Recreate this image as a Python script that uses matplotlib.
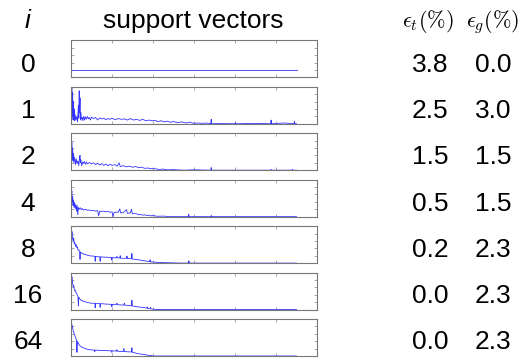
import numpy as np
import matplotlib
matplotlib.use("Agg")
import matplotlib.pyplot as plt

plt.rcParams['font.family'] = ['Liberation Sans', 'DejaVu Sans']
plt.rcParams['mathtext.fontset'] = 'cm'

# ---------------- data ----------------
row_labels = ["0", "1", "2", "4", "8", "16", "64"]
eps_t = [3.8, 2.5, 1.5, 0.5, 0.2, 0.0, 0.0]
eps_g = [0.0, 3.0, 1.5, 1.5, 2.3, 2.3, 2.3]

sv0_idx = [0, 1100]
sv0_val = [0.2, 0.2]

sv1_idx = [0, 2, 4, 6, 8, 10, 12, 14, 16, 18, 20, 24, 28, 32, 36, 38, 40, 42, 44, 46, 48, 50,
           54, 58, 62, 66, 70, 75, 80, 85, 90, 95, 100, 110, 120, 130, 140, 150, 160, 170, 180,
           190, 200, 215, 230, 245, 260, 275, 290, 305, 320, 335, 350, 365, 380, 395, 410, 425,
           440, 455, 470, 485, 500, 520, 540, 560, 580, 600, 620, 640, 660, 682, 684, 686, 720,
           800, 802, 804, 900, 974, 976, 978, 1040, 1088, 1090, 1092, 1100]
sv1_val = [0.95, 0.3, 1.0, 0.2, 0.85, 0.1, 0.6, 0.15, 0.4, 0.08, 0.25, 0.1, 0.2, 0.05, 0.5, 0.15,
           0.89, 0.3, 0.7, 0.1, 0.3, 0.12, 0.18, 0.08, 0.2, 0.1, 0.19, 0.12, 0.2, 0.13, 0.17, 0.1,
           0.18, 0.14, 0.17, 0.1, 0.16, 0.13, 0.15, 0.11, 0.14, 0.12, 0.15, 0.11, 0.14, 0.12, 0.13,
           0.1, 0.14, 0.1, 0.12, 0.09, 0.12, 0.08, 0.1, 0.08, 0.09, 0.06, 0.08, 0.05, 0.07, 0.04,
           0.06, 0.03, 0.05, 0.02, 0.04, 0.01, 0.02, 0.01, 0.02, 0.0, 0.12, 0.0, 0.005,
           0.0, 0.03, 0.0, 0.01, 0.0, 0.1, 0.0, 0.02, 0.0, 0.07, 0.0, 0.0]

sv2_idx = [0, 2, 4, 6, 8, 10, 12, 14, 18, 22, 26, 30, 34, 38, 42, 44, 46, 48, 52, 56, 60, 65,
           70, 75, 80, 90, 100, 110, 120, 130, 140, 150, 160, 170, 180, 190, 200, 215, 225, 235,
           240, 255, 270, 285, 300, 315, 330, 345, 360, 375, 390, 410, 430, 450, 470, 500, 550,
           600, 682, 684, 686, 800, 974, 976, 978, 1078, 1080, 1082, 1100]
sv2_val = [0.82, 0.5, 0.75, 0.3, 0.6, 0.25, 0.45, 0.2, 0.35, 0.15, 0.3, 0.18, 0.25, 0.12, 0.35,
           0.4, 0.2, 0.28, 0.12, 0.22, 0.18, 0.24, 0.16, 0.22, 0.17, 0.21, 0.17, 0.2, 0.15, 0.19,
           0.14, 0.18, 0.13, 0.17, 0.12, 0.16, 0.13, 0.15, 0.11, 0.2, 0.1, 0.12, 0.09, 0.11, 0.08,
           0.1, 0.07, 0.08, 0.05, 0.06, 0.04, 0.04, 0.02, 0.03, 0.01, 0.015, 0.0, 0.01,
           0.0, 0.07, 0.0, 0.0, 0.0, 0.02, 0.0, 0.0, 0.02, 0.0, 0.0]

sv4_idx = [0, 2, 4, 6, 8, 10, 12, 15, 18, 21, 24, 27, 30, 33, 36, 40, 45, 50, 55, 60, 70, 80,
           90, 100, 110, 120, 130, 135, 140, 150, 160, 170, 180, 190, 200, 205, 210, 230, 238,
           242, 255, 271, 275, 290, 295, 299, 310, 320, 330, 340, 350, 360, 370, 380, 390, 400,
           420, 450, 480, 572, 574, 576, 682, 684, 686, 1100]
sv4_val = [0.83, 0.55, 0.7, 0.4, 0.55, 0.3, 0.45, 0.25, 0.38, 0.22, 0.32, 0.15, 0.3, 0.05, 0.25,
           0.2, 0.24, 0.19, 0.22, 0.18, 0.2, 0.17, 0.18, 0.16, 0.17, 0.15, 0.16, 0.02, 0.15, 0.14,
           0.15, 0.13, 0.14, 0.12, 0.13, 0.0, 0.12, 0.12, 0.21, 0.1, 0.11, 0.19, 0.09, 0.1, 0.2,
           0.08, 0.08, 0.08, 0.05, 0.06, 0.04, 0.05, 0.03, 0.04, 0.02, 0.03, 0.01, 0.015, 0.0,
           0.0, 0.06, 0.0, 0.0, 0.03, 0.0, 0.0]

sv8_idx = [0, 3, 5, 8, 11, 13, 16, 19, 22, 25, 28, 31, 34, 38, 42, 44, 46, 50, 55, 60, 65, 70,
           80, 90, 100, 110, 117, 118, 120, 135, 141, 142, 145, 160, 175, 190, 198, 199, 202,
           215, 222, 224, 226, 238, 240, 242, 260, 271, 273, 275, 290, 295, 297, 299, 315, 330,
           345, 360, 376, 384, 386, 388, 400, 420, 440, 470, 500, 540, 574, 575, 577, 1100]
sv8_val = [0.92, 0.8, 0.85, 0.65, 0.6, 0.68, 0.52, 0.55, 0.45, 0.5, 0.42, 0.44, 0.35, 0.36,
           0.3, 0.1, 0.3, 0.28, 0.26, 0.25, 0.23, 0.24, 0.21, 0.2, 0.19, 0.19, 0.18, 0.05, 0.18,
           0.17, 0.17, 0.05, 0.17, 0.16, 0.16, 0.15, 0.15, 0.08, 0.15, 0.14, 0.15, 0.18, 0.14,
           0.14, 0.2, 0.13, 0.13, 0.13, 0.19, 0.12, 0.12, 0.12, 0.26, 0.11, 0.1, 0.09, 0.07,
           0.06, 0.05, 0.04, 0.09, 0.03, 0.03, 0.02, 0.015, 0.01, 0.005, 0.0, 0.0, 0.06, 0.0, 0.0]

sv16_idx = [0, 3, 5, 8, 11, 13, 16, 19, 22, 25, 28, 31, 34, 36, 38, 42, 46, 50, 55, 60, 70, 80,
            90, 100, 117, 118, 120, 141, 142, 145, 165, 198, 199, 202, 222, 224, 226, 258, 260,
            262, 280, 295, 297, 299, 315, 330, 345, 360, 370, 372, 374, 385, 388, 390, 400,
            420, 1100]
sv16_val = [0.96, 0.85, 0.88, 0.7, 0.62, 0.66, 0.55, 0.5, 0.52, 0.45, 0.44, 0.38, 0.35, 0.1,
            0.33, 0.3, 0.27, 0.25, 0.24, 0.22, 0.21, 0.19, 0.18, 0.17, 0.17, 0.05, 0.16, 0.16,
            0.06, 0.16, 0.15, 0.14, 0.08, 0.14, 0.14, 0.17, 0.13, 0.12, 0.17, 0.12, 0.11, 0.1,
            0.25, 0.1, 0.08, 0.07, 0.06, 0.05, 0.04, 0.07, 0.03, 0.03, 0.06, 0.02, 0.01, 0.0, 0.0]

sv64_idx = [0, 2, 4, 7, 10, 13, 16, 19, 22, 25, 27, 29, 31, 35, 40, 45, 50, 60, 70, 80, 90, 100,
            110, 114, 116, 118, 140, 170, 198, 199, 201, 222, 224, 226, 255, 258, 260, 290, 295,
            297, 299, 315, 330, 345, 355, 365, 376, 390, 400, 1100]
sv64_val = [0.98, 0.9, 0.85, 0.8, 0.7, 0.64, 0.6, 0.55, 0.5, 0.46, 0.44, 0.1, 0.4, 0.35, 0.3,
            0.27, 0.25, 0.22, 0.2, 0.18, 0.17, 0.165, 0.16, 0.16, 0.12, 0.16, 0.15, 0.145, 0.14,
            0.1, 0.14, 0.135, 0.17, 0.13, 0.12, 0.21, 0.12, 0.11, 0.11, 0.22, 0.1, 0.08, 0.06,
            0.05, 0.04, 0.03, 0.02, 0.01, 0.0, 0.0]

series = [(sv0_idx, sv0_val), (sv1_idx, sv1_val), (sv2_idx, sv2_val), (sv4_idx, sv4_val),
          (sv8_idx, sv8_val), (sv16_idx, sv16_val), (sv64_idx, sv64_val)]

# ---------------- figure ----------------
W, H = 522, 358
fig = plt.figure(figsize=(W / 100, H / 100), dpi=100)
FS = 19

def fy(py):
    return 1 - py / H

# headers
fig.text(28 / W, fy(28), "i", ha="center", va="baseline", fontsize=FS, style="italic")
fig.text(193 / W, fy(28), "support vectors", ha="center", va="baseline", fontsize=FS)
fig.text(428 / W, fy(27), r"$\epsilon_t(\%)$", ha="center", va="baseline", fontsize=16)
fig.text(493 / W, fy(27), r"$\epsilon_g(\%)$", ha="center", va="baseline", fontsize=16)

for k, (lab, (xs, ys), et, eg) in enumerate(zip(row_labels, series, eps_t, eps_g)):
    top = 40.3 + 46.45 * k
    ax = fig.add_axes([71 / W, fy(top + 37), 246 / W, 37 / H])
    ax.plot(xs, ys, color=(0.2, 0.2, 1.0), lw=0.6)
    ax.set_xlim(0, 1200)
    ax.set_ylim(0, 1)
    ax.set_xticks(np.arange(0, 1201, 200))
    ax.set_yticks(np.arange(0, 1.01, 0.2))
    ax.tick_params(direction="in", length=2, width=0.5, color="#888888",
                   top=True, right=True, labelbottom=False, labelleft=False)
    for s in ax.spines.values():
        s.set_color("#777777")
        s.set_linewidth(0.8)
    base = 72 + 46.2 * k
    fig.text(28 / W, fy(base), lab, ha="center", va="baseline", fontsize=FS)
    fig.text(430 / W, fy(base), f"{et:.1f}", ha="center", va="baseline", fontsize=FS)
    fig.text(493 / W, fy(base), f"{eg:.1f}", ha="center", va="baseline", fontsize=FS)

fig.savefig("out.png", dpi=100)
